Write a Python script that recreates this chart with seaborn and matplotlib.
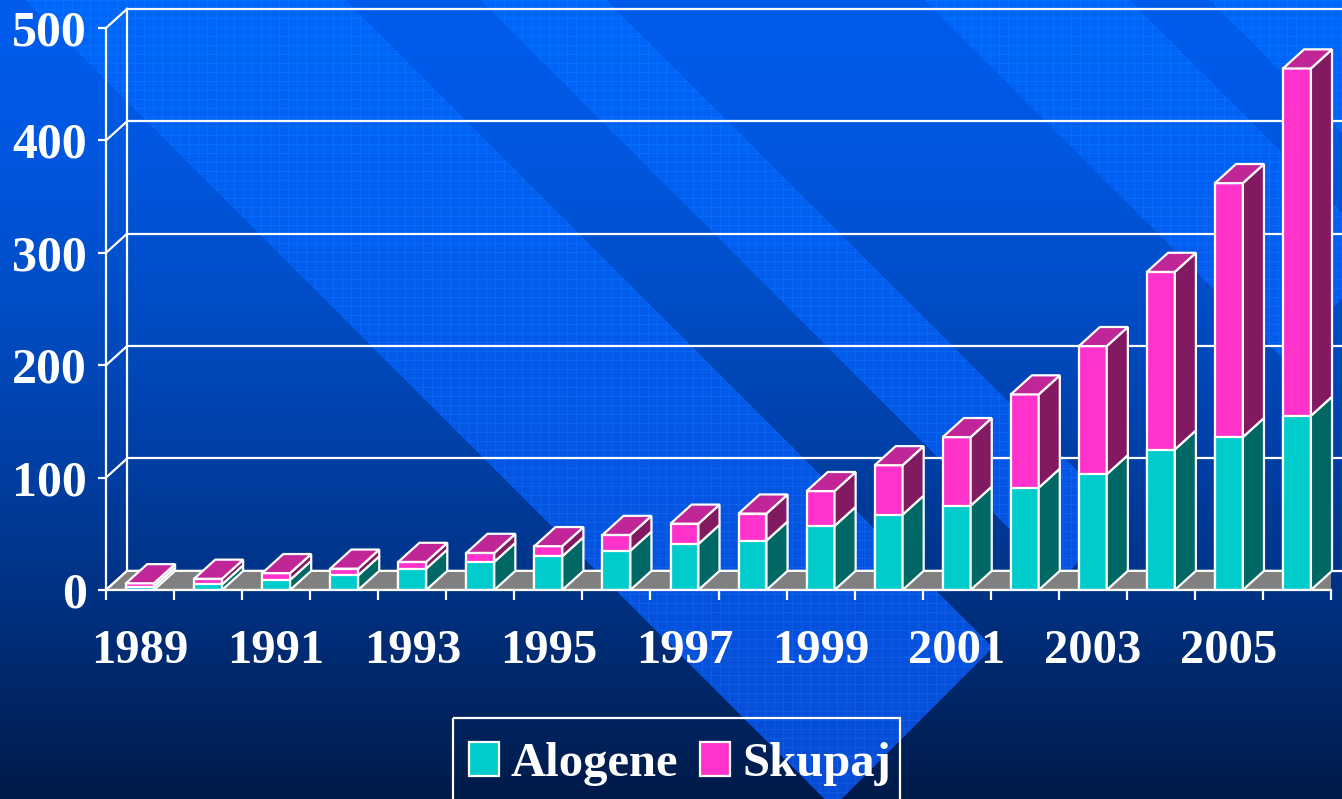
import numpy as np
import pandas as pd
import seaborn as sns
import matplotlib
matplotlib.use("Agg")
import matplotlib.pyplot as plt
from matplotlib.patches import Polygon, Patch, Rectangle

# podatki, odčitani s slike
years = list(range(1989, 2007))
alogene = [3, 5, 9, 13, 19, 25, 30, 35, 41, 44, 57, 67, 75, 91, 103, 125, 136, 155]
skupaj = [3, 5, 6, 6, 6, 8, 9, 14, 18, 24, 31, 44, 61, 83, 114, 158, 226, 309]
y_ticks = [0, 100, 200, 300, 400, 500]
x_labels = [str(y) for y in years[::2]]

TEAL = "#00CCCC"
TEAL_SIDE = "#006864"
MAG = "#FF33CC"
MAG_SIDE = "#821A62"
MAG_TOP = "#C02698"
GRAY = "#808080"
LW = 1.6

plt.rcParams["font.family"] = ["Liberation Serif", "DejaVu Serif"]
plt.rcParams["font.weight"] = "bold"

W, H = 1342, 799
fig = plt.figure(figsize=(W / 100, H / 100), dpi=100)

# ozadje: gradient + diagonalni pasovi s teksturo
ax_bg = fig.add_axes([0, 0, 1, 1], zorder=0)
yy, xx = np.mgrid[0:H, 0:W]
t = (yy / (H - 1))[..., None]
top = np.array([0x00, 0x5C, 0xEC]) / 255
bot = np.array([0x00, 0x1A, 0x48]) / 255
base = top * (1 - t ** 1.5) + bot * t ** 1.5
btop = np.array([0x00, 0x66, 0xFA]) / 255
bbot = np.array([0x08, 0x4C, 0xD4]) / 255
band = btop * (1 - t) + bbot * t
u = xx - yy
v = xx + yy
mask = (((u > 25) & (u < 346)) | ((u > 480) & (u < 607)) |
        ((u > 924) & (u < 1130)) | (u > 1209)) & (v < 1640)
img = np.where(mask[..., None], band, base)
tex = mask & ((xx % 9 == 0) | (yy % 9 == 0))
img[tex] = np.clip(img[tex] + np.array([0.02, 0.05, 0.05]), 0, 1)
ax_bg.imshow(img, extent=(0, W, H, 0), aspect="auto", interpolation="nearest")
ax_bg.add_patch(Rectangle((453, 718), 447, 120, fill=False, edgecolor="white",
                          lw=LW, zorder=3))
ax_bg.set_xlim(0, W)
ax_bg.set_ylim(H, 0)
ax_bg.axis("off")

# glavni graf
ax = fig.add_axes([106 / W, (H - 590) / H, 1225 / W, 562 / H], zorder=1)
ax.set_facecolor("none")

df = pd.DataFrame({"leto": years, "alogene": alogene, "skupaj": skupaj})
df["vrh"] = df["alogene"] + df["skupaj"]

dx, dy = 0.31, 17.0  # globina 3D učinka

# tla
floor = Polygon([(-0.5, 0), (17.5, 0), (17.5 + dx, dy), (-0.5 + dx, dy)],
                closed=True, facecolor=GRAY, edgecolor="white", lw=LW, zorder=2)
ax.add_patch(floor)

# zadnja stena z mrežo
for val in y_ticks:
    ax.plot([-0.5 + dx, 19.5], [val + dy, val + dy], color="white", lw=LW,
            clip_on=False, zorder=1.5)
    ax.plot([-0.5, -0.5 + dx], [val, val + dy], color="white", lw=LW,
            clip_on=False, zorder=1.5)
ax.plot([-0.5 + dx, -0.5 + dx], [dy, 500 + dy], color="white", lw=LW,
        clip_on=False, zorder=1.5)

sns.barplot(data=df, x="leto", y="vrh", color=MAG, saturation=1, width=0.41,
            edgecolor="white", linewidth=LW, errorbar=None, ax=ax, zorder=3)
sns.barplot(data=df, x="leto", y="alogene", color=TEAL, saturation=1, width=0.41,
            edgecolor="white", linewidth=LW, errorbar=None, ax=ax, zorder=3)

n = len(years)
bars = [p for p in ax.patches if isinstance(p, Rectangle)]
mag_bars = bars[:n]
teal_bars = bars[n:2 * n]

for pm, pt in zip(mag_bars, teal_bars):
    x0 = pm.get_x()
    x1 = x0 + pm.get_width()
    h_t = pt.get_height()
    h_m = pm.get_height()
    side_t = Polygon([(x1, 0), (x1 + dx, dy), (x1 + dx, h_t + dy), (x1, h_t)],
                     facecolor=TEAL_SIDE, edgecolor="white", lw=LW, zorder=3)
    side_m = Polygon([(x1, h_t), (x1 + dx, h_t + dy), (x1 + dx, h_m + dy), (x1, h_m)],
                     facecolor=MAG_SIDE, edgecolor="white", lw=LW, zorder=3)
    top_m = Polygon([(x0, h_m), (x0 + dx, h_m + dy), (x1 + dx, h_m + dy), (x1, h_m)],
                    facecolor=MAG_TOP, edgecolor="white", lw=LW, zorder=3)
    for poly in (side_t, side_m, top_m):
        poly.set_clip_on(False)
        ax.add_patch(poly)

ax.set_xlim(-0.5, 17.5)
ax.set_ylim(0, 500)
ax.set_xlabel("")
ax.set_ylabel("")

for s in ("top", "right"):
    ax.spines[s].set_visible(False)
for s in ("left", "bottom"):
    ax.spines[s].set_color("white")
    ax.spines[s].set_linewidth(LW)
    ax.spines[s].set_zorder(4)

y_font = dict(family=["Liberation Serif", "DejaVu Serif"], weight="bold", size=36)
x_font = dict(family=["Liberation Serif", "DejaVu Serif"], weight="bold", size=35)
ax.set_yticks(y_ticks)
ax.set_yticklabels([str(v) for v in y_ticks], fontdict=y_font, color="white")
ax.set_xticks(range(0, n, 2))
ax.set_xticklabels(x_labels, fontdict=x_font, color="white")
ax.set_xticks(np.arange(-0.5, n, 1), minor=True)
ax.tick_params(axis="y", which="major", length=6, width=LW, color="white", pad=8)
ax.tick_params(axis="x", which="major", length=0, pad=28)
ax.tick_params(axis="x", which="minor", length=7, width=LW, color="white")

handles = [Patch(facecolor=TEAL, edgecolor="white", lw=LW, label="Alogene"),
           Patch(facecolor=MAG, edgecolor="white", lw=LW, label="Skupaj")]
leg = fig.legend(handles=handles, loc="center left",
                 bbox_to_anchor=(469 / W, 1 - 764 / H), ncol=2, frameon=False,
                 labelcolor="white",
                 prop=dict(family="Liberation Serif", weight="bold", size=35),
                 handlelength=0.62, handleheight=0.68, handletextpad=0.24,
                 columnspacing=0.45, borderpad=0, borderaxespad=0)

fig.savefig("out.png", dpi=100)
